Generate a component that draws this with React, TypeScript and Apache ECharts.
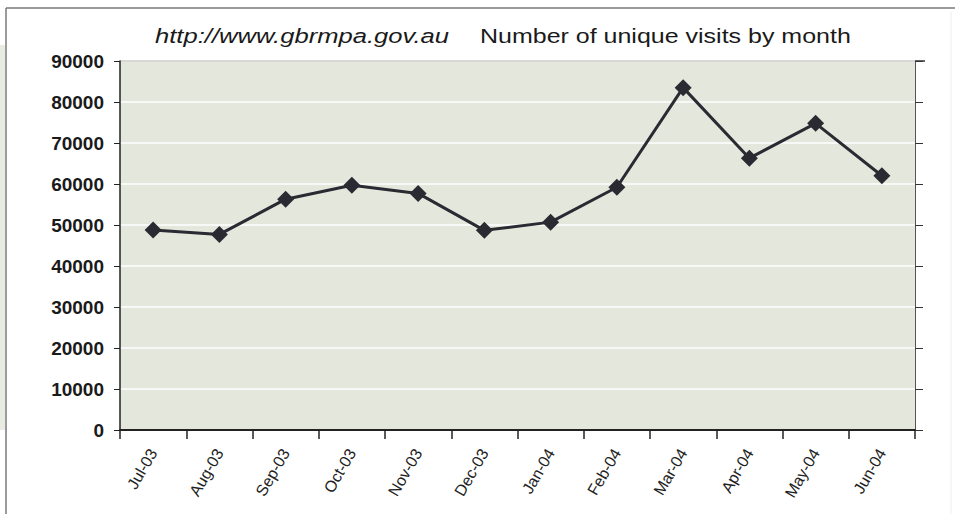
import React, { useEffect, useRef } from "react";
import * as echarts from "echarts";

const months = ["Jul-03", "Aug-03", "Sep-03", "Oct-03", "Nov-03", "Dec-03", "Jan-04", "Feb-04", "Mar-04", "Apr-04", "May-04", "Jun-04"];
const visits = [48800, 47700, 56300, 59700, 57700, 48700, 50700, 59200, 83500, 66300, 74800, 62000];
const titleUrl = "http://www.gbrmpa.gov.au";
const titleText = "Number of unique visits by month";

export default function App() {
  const ref = useRef<HTMLDivElement>(null);
  useEffect(() => {
    const chart = echarts.init(ref.current!, null, { renderer: "svg" });
    const font = "'Liberation Sans', Arial, sans-serif";
    chart.setOption({
      animation: false,
      backgroundColor: "#ffffff",
      graphic: [
        { type: "rect", shape: { x: 0, y: 45, width: 5, height: 385 }, style: { fill: "#e9ece3" }, silent: true },
        { type: "line", shape: { x1: 6, y1: 8, x2: 955, y2: 8 }, style: { stroke: "#7a7a7a", lineWidth: 1.5 }, silent: true },
        { type: "line", shape: { x1: 6, y1: 8, x2: 6, y2: 514 }, style: { stroke: "#7a7a7a", lineWidth: 1.5 }, silent: true },
        { type: "line", shape: { x1: 951, y1: 12, x2: 951, y2: 514 }, style: { stroke: "#eeeeee", lineWidth: 1 }, silent: true },
        { type: "line", shape: { x1: 120, y1: 61, x2: 925, y2: 61 }, style: { stroke: "#333333", lineWidth: 1.5 }, silent: true },
        {
          type: "text", x: 155, y: 26, scaleX: 1.28,
          style: { text: titleUrl, font: `italic 20px ${font}`, fill: "#1a1a1a" },
        },
        {
          type: "text", x: 480, y: 26, scaleX: 1.25,
          style: { text: titleText, font: `20px ${font}`, fill: "#1a1a1a" },
        },
      ],
      grid: {
        left: 120, right: 40, top: 61, bottom: 84,
        show: true, backgroundColor: "#e4e8dc", borderWidth: 0,
      },
      xAxis: {
        type: "category",
        data: months,
        boundaryGap: true,
        axisLine: { lineStyle: { color: "#222", width: 2 } },
        axisTick: { show: true, length: 9, alignWithLabel: false, lineStyle: { color: "#222", width: 1.5 } },
        axisLabel: { rotate: 60, margin: 20, fontSize: 16, fontFamily: font, color: "#222", interval: 0 },
        splitLine: { show: false },
      },
      yAxis: [
        {
          type: "value", min: 0, max: 90000, interval: 10000,
          axisLine: { show: true, lineStyle: { color: "#222", width: 1.5 } },
          axisTick: { show: true, length: 6, lineStyle: { color: "#222" } },
          axisLabel: {
            margin: 16, fontSize: 19, fontWeight: "bold", fontFamily: font, color: "#1a1a1a",
            formatter: (v: number) => String(v),
          },
          splitLine: { show: true, lineStyle: { color: "#ffffff", width: 1.5 } },
        },
        {
          type: "value", min: 0, max: 90000, interval: 10000, position: "right",
          axisLine: { show: true, lineStyle: { color: "#555", width: 1 } },
          axisTick: { show: true, length: 8, lineStyle: { color: "#333" } },
          axisLabel: { show: false },
          splitLine: { show: false },
        },
      ],
      series: [
        {
          type: "line",
          data: visits,
          yAxisIndex: 0,
          symbol: "diamond",
          symbolSize: 17,
          lineStyle: { color: "#2a2a33", width: 3 },
          itemStyle: { color: "#2a2a33" },
        },
      ],
    });
    return () => chart.dispose();
  }, []);
  return <div ref={ref} style={{ width: 955, height: 514, position: "absolute", left: 0, top: 0 }} />;
}
